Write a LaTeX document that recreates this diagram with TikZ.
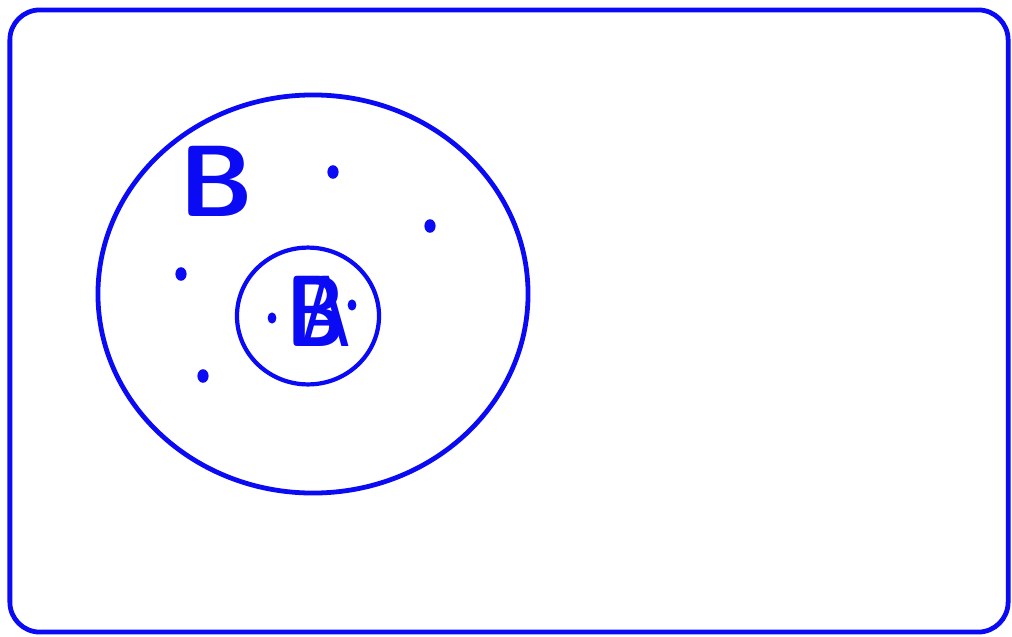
\documentclass[tikz,border=0pt]{standalone}
\usepackage{tikz}
\usetikzlibrary{shapes.geometric, positioning}
\definecolor{myblue}{RGB}{10,10,245}
\tikzset{
  frame/.style={rectangle, draw=myblue, line width=3.4pt, rounded corners=0.75cm,
    minimum width=24.95cm, minimum height=15.55cm, inner sep=0pt},
  setB/.style={ellipse, draw=myblue, line width=3.4pt, inner sep=0pt,
    minimum width=10.75cm, minimum height=9.95cm},
  setA/.style={ellipse, draw=myblue, line width=3pt, inner sep=0pt,
    minimum width=3.55cm, minimum height=3.42cm},
  elem/.style={ellipse, fill=myblue, inner sep=0pt, minimum width=0.28cm, minimum height=0.34cm},
  letter/.style={text=myblue, font=\fontsize{72}{72}\selectfont\sffamily\bfseries, inner sep=0pt}
}
\begin{document}
\begin{tikzpicture}[x=0.025cm, y=-0.025cm]
  \useasboundingbox (0,0) rectangle (1012,637);
  \node [frame] (univ) at (509,321) {};
  \node [setB] (bigset) at (313,294) {};
  \node [setA] (smallset) at (308,316) {};

  % labels
  \node [letter] (labB) at (217,181) {B};
  \node [letter, xscale=0.8] (labAB) at (316,311)
    {\makebox[0pt]{B}\makebox[0pt]{\hspace*{0.25em}\mdseries A}};

  % elements
  \node [elem] (e1) at (333,172) {};
  \node [elem] (e2) at (430,226) {};
  \node [elem] (e3) at (181,274) {};
  \node [elem] (e4) at (203,376) {};
  \node [elem, minimum width=0.22cm, minimum height=0.28cm] (e5) at (272,318) {};
  \node [elem, minimum width=0.22cm, minimum height=0.28cm] (e6) at (352,305) {};
\end{tikzpicture}
\end{document}
